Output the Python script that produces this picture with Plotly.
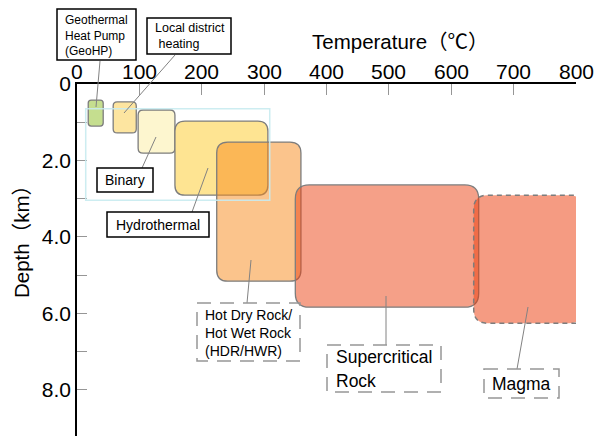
import plotly.graph_objects as go

# ---------------- data ----------------
categories = ["GeoHP", "Local district heating", "Binary", "Hydrothermal",
              "HDR/HWR", "Supercritical Rock", "Magma"]
temp_min = [18, 58, 98, 157, 224, 350, 636]
temp_max = [42, 95, 157, 306, 359, 644, 811]
depth_min = [0.42, 0.47, 0.68, 0.97, 1.52, 2.64, 2.91]
depth_max = [1.10, 1.28, 1.81, 2.91, 5.16, 5.84, 6.26]
frame_temp = [14, 309]
frame_depth = [0.65, 3.04]
x_ticks = [0, 100, 200, 300, 400, 500, 600, 700, 800]
x_ticktext = ["0", "100", "200", "300", "400", "500", "600", "700", "800"]
y_ticks = [0, 1, 2, 3, 4, 5, 6, 7, 8]
y_ticktext = ["0", "", "2.0", "", "4.0", "", "6.0", "", "8.0"]

# ---------------- styles ----------------
fills = ["rgb(197,222,143)", "rgb(253,229,160)", "rgb(253,246,207)",
         "rgb(254,228,146)", "rgba(247,137,25,0.5)", "rgba(235,65,17,0.5)",
         "rgba(235,55,5,0.5)"]
radii_px = [3, 4, 5, 10, 11, 14, 14]
edge = "rgb(125,125,125)"
FONT = "Arial, Liberation Sans, Noto Sans CJK JP"

OFF = 8  # default page body margin
W, H = 605 - OFF, 436 - OFF
L, R, T, B = 77 - OFF, 29, 84 - OFF, 0
XR = [0, 800]
YR = [9.21, 0]
pw, ph = W - L - R, H - T - B
sx = pw / (XR[1] - XR[0])
sy = ph / (YR[0] - YR[1])


def px(xp):
    return (xp - OFF - L) / pw


def py(yp):
    return 1 - (yp - OFF - T) / ph


def rounded(x0, x1, y0, y1, r, open_right=False):
    rx, ry = r / sx, r / sy
    if open_right:
        return (f"M{x1},{y0} L{x0+rx},{y0} Q{x0},{y0} {x0},{y0+ry} "
                f"L{x0},{y1-ry} Q{x0},{y1} {x0+rx},{y1} L{x1},{y1}")
    return (f"M{x0+rx},{y0} L{x1-rx},{y0} Q{x1},{y0} {x1},{y0+ry} "
            f"L{x1},{y1-ry} Q{x1},{y1} {x1-rx},{y1} L{x0+rx},{y1} "
            f"Q{x0},{y1} {x0},{y1-ry} L{x0},{y0+ry} Q{x0},{y0} {x0+rx},{y0} Z")


fig = go.Figure()
fig.add_trace(go.Scatter(x=[None], y=[None], showlegend=False, hoverinfo="skip"))

shapes = []
for i, c in enumerate(categories):
    x0, x1, y0, y1 = temp_min[i], temp_max[i], depth_min[i], depth_max[i]
    if c == "Magma":
        shapes.append(dict(type="path", xref="x", yref="y",
                           path=rounded(x0, x1, y0, y1, radii_px[i]),
                           fillcolor=fills[i], line=dict(width=0)))
        shapes.append(dict(type="path", xref="x", yref="y",
                           path=rounded(x0, x1, y0, y1, radii_px[i], open_right=True),
                           line=dict(color=edge, width=1.5, dash="5px,4px")))
    else:
        shapes.append(dict(type="path", xref="x", yref="y",
                           path=rounded(x0, x1, y0, y1, radii_px[i]),
                           fillcolor=fills[i], line=dict(color=edge, width=1.3)))

shapes.append(dict(type="rect", xref="x", yref="y",
                   x0=frame_temp[0], x1=frame_temp[1],
                   y0=frame_depth[0], y1=frame_depth[1],
                   line=dict(color="rgba(200,235,240,0.9)", width=1.5)))

leaders = [((100, 61), (96, 107)), ((175, 55), (124, 113)),
           ((142, 168), (156, 137)), ((208, 168), (192, 212)),
           ((251, 260), (247, 303)), ((386, 296), (386, 345)),
           ((528, 307), (517, 369))]
for (a, b) in leaders:
    shapes.append(dict(type="line", xref="paper", yref="paper",
                       x0=px(a[0]), y0=py(a[1]), x1=px(b[0]), y1=py(b[1]),
                       line=dict(color="rgb(130,130,130)", width=1)))

solid_boxes = [(57, 136, 9, 60), (147, 231, 18, 54), (97, 153, 168, 192),
               (107, 209, 212, 237)]
for (a, b, c, d) in solid_boxes:
    shapes.append(dict(type="rect", xref="paper", yref="paper",
                       x0=px(a), x1=px(b), y0=py(c), y1=py(d),
                       fillcolor="white", line=dict(color="black", width=1.5)))
dashed_boxes = [(197, 300, 303, 361), (327, 441, 345, 392), (484, 559, 369, 398)]
for (a, b, c, d) in dashed_boxes:
    shapes.append(dict(type="rect", xref="paper", yref="paper",
                       x0=px(a), x1=px(b), y0=py(c), y1=py(d),
                       fillcolor="rgba(255,255,255,0)",
                       line=dict(color="rgb(150,150,150)", width=1.5, dash="14px,9px")))

annotations = []


def label(text, x, y, size, xanchor="center", align="center"):
    annotations.append(dict(text=text, xref="paper", yref="paper",
                            x=px(x), y=py(y), xanchor=xanchor, yanchor="middle",
                            align=align, showarrow=False,
                            font=dict(family=FONT, size=size, color="black")))


label("Geothermal<br>Heat Pump<br>(GeoHP)", 63, 35, 12, "left", "left")
label("Local district<br> heating", 153, 36, 12.5, "left", "left")
label("Binary", 125, 180, 14)
label("Hydrothermal", 158, 225, 14)
label("Hot Dry Rock/<br>Hot Wet Rock<br>(HDR/HWR)", 203, 333, 14, "left", "left")
label("Supercritical", 334, 357, 17.5, "left", "left")
label("Rock", 334, 381, 17.5, "left", "left")
label("Magma", 521, 384, 17.5)
label("Temperature（℃）", 400, 41, 20.5)
annotations.append(dict(text="Depth（km）", xref="paper", yref="paper",
                        x=px(22), y=py(237), xanchor="center", yanchor="middle",
                        textangle=-90, showarrow=False,
                        font=dict(family=FONT, size=20.5, color="black")))

# x tick labels placed on the x scale, just above the top axis line
for v, t in zip(x_ticks, x_ticktext):
    annotations.append(dict(text=t, xref="x", yref="paper", x=v, y=py(85),
                            xanchor="center", yanchor="bottom", showarrow=False,
                            font=dict(family=FONT, size=21, color="black")))

fig.update_layout(
    width=W, height=H,
    margin=dict(l=L, r=R, t=T, b=B, pad=0, autoexpand=False),
    paper_bgcolor="white", plot_bgcolor="white",
    showlegend=False,
    shapes=shapes, annotations=annotations,
    xaxis=dict(range=XR, side="top", tickvals=x_ticks, automargin=False,
               showticklabels=False,
               ticks="inside", ticklen=11, tickcolor="rgb(150,150,150)", tickwidth=1,
               showline=True, linecolor="black", linewidth=1.5,
               showgrid=False, zeroline=False),
    yaxis=dict(range=YR, tickvals=y_ticks, ticktext=y_ticktext, automargin=False,
               ticks="inside", ticklen=10, tickcolor="rgb(150,150,150)", tickwidth=1,
               showline=True, linecolor="black", linewidth=1.5,
               showgrid=False, zeroline=False,
               tickfont=dict(family=FONT, size=21, color="black")),
)

fig.write_html("out.html")
